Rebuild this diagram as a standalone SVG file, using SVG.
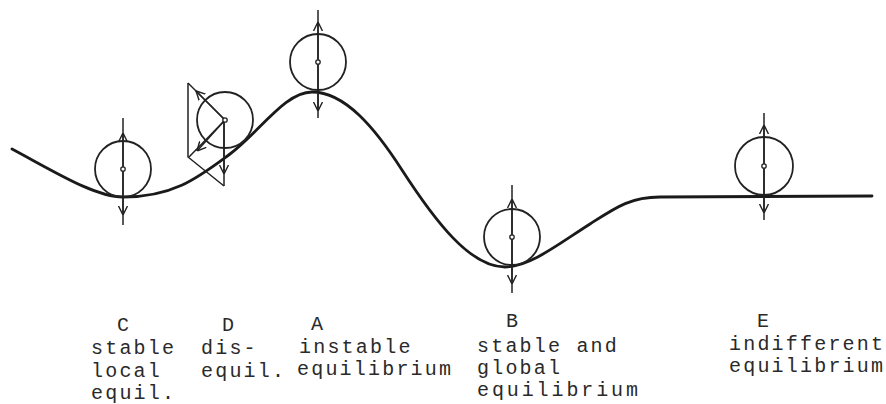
<svg xmlns="http://www.w3.org/2000/svg" width="886" height="404" viewBox="0 0 886 404">
<style>
.curve{fill:none;stroke:#1a1a1a;stroke-width:2.8;stroke-linecap:round;stroke-linejoin:round}
.ball{fill:none;stroke:#222;stroke-width:1.8}
.ax{fill:none;stroke:#222;stroke-width:1.5}
.hub{fill:#fff;stroke:#222;stroke-width:1.3}
.label{font-family:"Liberation Mono","Courier New",monospace;font-size:20px;letter-spacing:2.2px;fill:#2a2a2a}
</style>
<defs>
<marker id="chev" viewBox="0 0 10 10" refX="10" refY="5" markerUnits="userSpaceOnUse" markerWidth="9" markerHeight="10" orient="auto">
<path d="M0,0 L10,5 L0,10" fill="none" stroke="#222" stroke-width="1.6"/>
</marker>
</defs>
<rect width="886" height="404" fill="#fff"/>
<g id="landscape">
<path class="curve" d="M12,149 C55,172 95,197 123,197 C175,197 200,176 230,154 C260,131.5 285,92 312,92 C345,92 375,128 402,170 C435,221 470,267 505,267 C530,267 560,243 590,224 C615,208 630,197 660,197 L872,196"/>
</g>
<g id="ball-C">
<circle class="ball" cx="123" cy="169" r="28"/>
<line class="ax" x1="123" y1="118" x2="123" y2="225"/>
<path class="ax" d="M123,169 V133" marker-end="url(#chev)"/>
<path class="ax" d="M123,169 V215" marker-end="url(#chev)"/>
<circle class="hub" cx="123" cy="169" r="2.2"/>
</g>
<g id="ball-D">
<circle class="ball" cx="225" cy="120" r="28"/>
<path class="ax" d="M188,83 V157 L224,186"/>
<line class="ax" x1="225" y1="120" x2="188" y2="83"/>
<line class="ax" x1="225" y1="120" x2="189" y2="157"/>
<line class="ax" x1="224" y1="120" x2="224" y2="186"/>
<path class="ax" d="M225,120 L196,91" marker-end="url(#chev)"/>
<path class="ax" d="M225,120 L197,151" marker-end="url(#chev)"/>
<path class="ax" d="M224,120 V174" marker-end="url(#chev)"/>
<circle class="hub" cx="225" cy="120" r="2.2"/>
</g>
<g id="ball-A">
<circle class="ball" cx="318" cy="62" r="28"/>
<line class="ax" x1="318" y1="10" x2="318" y2="118"/>
<path class="ax" d="M318,62 V22" marker-end="url(#chev)"/>
<path class="ax" d="M318,62 V111" marker-end="url(#chev)"/>
<circle class="hub" cx="318" cy="62" r="2.2"/>
</g>
<g id="ball-B">
<circle class="ball" cx="512" cy="237" r="28"/>
<line class="ax" x1="512" y1="185" x2="512" y2="293"/>
<path class="ax" d="M512,237 V199" marker-end="url(#chev)"/>
<path class="ax" d="M512,237 V284" marker-end="url(#chev)"/>
<circle class="hub" cx="512" cy="237" r="2.2"/>
</g>
<g id="ball-E">
<circle class="ball" cx="764" cy="166" r="29"/>
<line class="ax" x1="764" y1="113" x2="764" y2="220"/>
<path class="ax" d="M764,166 V125" marker-end="url(#chev)"/>
<path class="ax" d="M764,166 V213" marker-end="url(#chev)"/>
<circle class="hub" cx="764" cy="166" r="2.2"/>
</g>
<g id="label-C">
<text class="label" x="117" y="331">C</text>
<text class="label" x="91" y="354">stable</text>
<text class="label" x="91" y="377">local</text>
<text class="label" x="91" y="399">equil.</text>
</g>
<g id="label-D">
<text class="label" x="222" y="331">D</text>
<text class="label" x="201" y="354">dis-</text>
<text class="label" x="201" y="377">equil.</text>
</g>
<g id="label-A">
<text class="label" x="311" y="330">A</text>
<text class="label" x="299" y="353">instable</text>
<text class="label" x="297" y="375">equilibrium</text>
</g>
<g id="label-B">
<text class="label" x="506" y="327">B</text>
<text class="label" x="477" y="352">stable and</text>
<text class="label" x="477" y="374">global</text>
<text class="label" x="477" y="396" style="letter-spacing:2.9px">equilibrium</text>
</g>
<g id="label-E">
<text class="label" x="757" y="327">E</text>
<text class="label" x="729" y="350">indifferent</text>
<text class="label" x="729" y="372">equilibrium</text>
</g>
</svg>
